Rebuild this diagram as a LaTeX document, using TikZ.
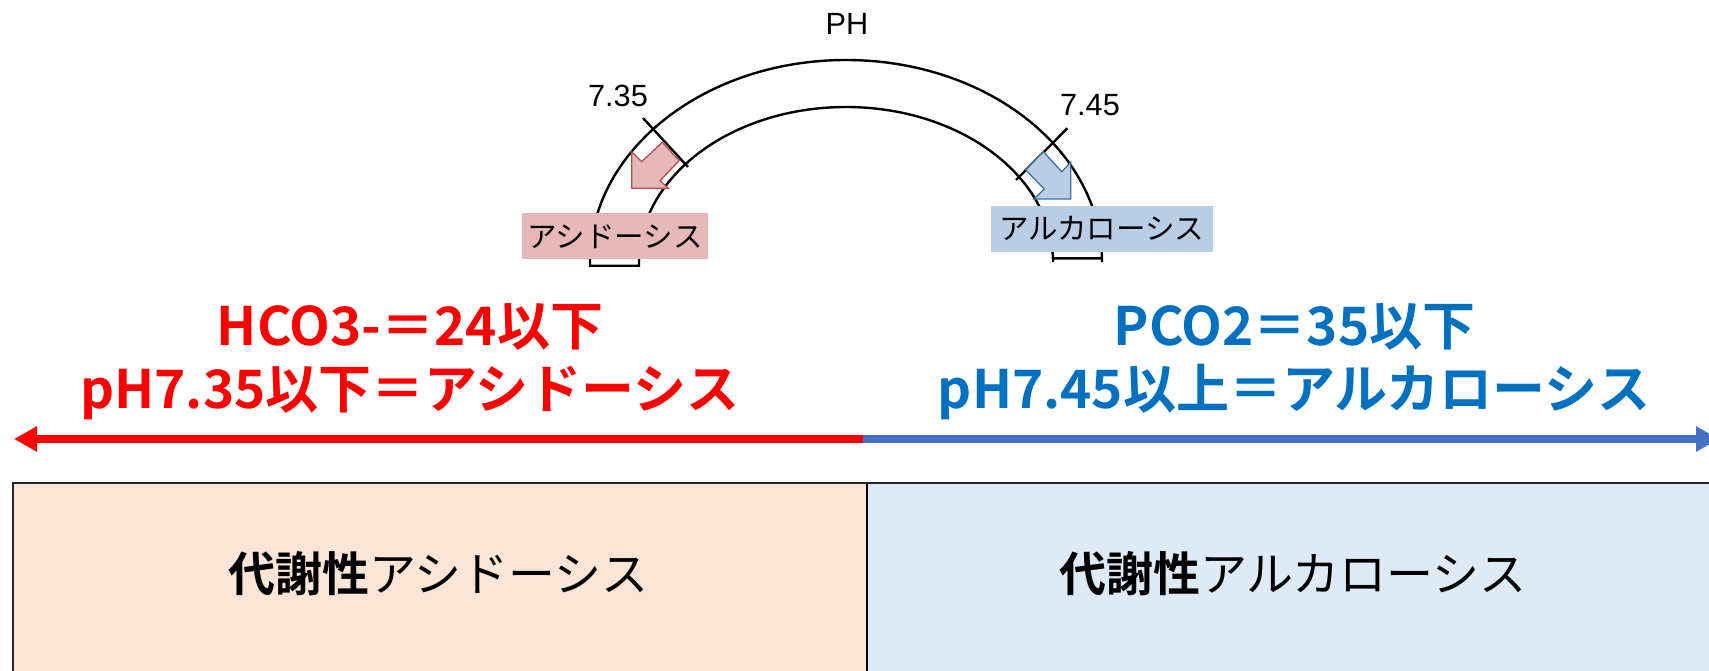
\documentclass[tikz,border=0pt]{standalone}
\usepackage{fontspec}
\setmainfont{Noto Sans CJK JP}[BoldFont={Noto Sans CJK JP Bold}]
\newfontfamily\arialish{Liberation Sans}
\usetikzlibrary{arrows.meta}
\definecolor{txtred}{HTML}{FF0000}
\definecolor{txtblue}{HTML}{0070C0}
\definecolor{arrblue}{HTML}{4472C4}
\definecolor{pinkfill}{HTML}{E6B9B8}
\definecolor{pinkline}{HTML}{B5504D}
\definecolor{bluefill}{HTML}{B9CDE5}
\definecolor{blueline}{HTML}{41719C}
\definecolor{peach}{HTML}{FBE5D6}
\definecolor{lightblue}{HTML}{DEEBF7}
\tikzset{
  bigtext/.style={font=\fontsize{53}{60}\selectfont\bfseries, anchor=base, inner sep=0pt},
  boxtext/.style={font=\fontsize{47}{54}\selectfont, anchor=base, inner sep=0pt},
  smalltext/.style={font=\arialish\fontsize{30.7}{36}\selectfont, inner sep=0pt},
  tag/.style={font=\fontsize{29.5}{34}\selectfont, inner sep=0pt, minimum height=46pt},
  archline/.style={line width=2.4pt, black},
  mainarrow/.style={line width=7.5pt, -{Triangle[length=23pt,width=24pt]}},
  panel/.style={line width=1.2pt, draw=black}
}
\begin{document}
\begin{tikzpicture}[x=1pt,y=-1pt]
\useasboundingbox (0,0) rectangle (1709,670);
\clip (0,0) rectangle (1709,670);

% lower panels
\fill[peach] (13,483) rectangle (867,690);
\fill[lightblue] (867,483) rectangle (1730,690);
\draw[panel] (867,483) -- (867,690);
\draw[line width=2.5pt, black!85] (13,690) -- (13,483) -- (1730,483);
\node[boxtext] (lefttxt) at (438.7,591) {{\bfseries 代謝性}アシドーシス};
\node[boxtext] (righttxt) at (1293,591) {{\bfseries 代謝性}アルカローシス};

% main arrows
\coordinate (mid) at (867,439);
\coordinate (leftend) at (14,439);
\coordinate (rightend) at (1719,439);
\draw[mainarrow, txtred] (mid) -- (leftend);
\draw[mainarrow, arrblue] ([xshift=-4pt]mid) -- (rightend);

% headings
\node[bigtext, txtred] (h1) at (410,345) {HCO3-＝24以下};
\node[bigtext, txtred] (h2) at (410,408) {pH7.35以下＝アシドーシス};
\node[bigtext, txtblue] (h3) at (1294.5,345) {PCO2＝35以下};
\node[bigtext, txtblue] (h4) at (1294,408) {pH7.45以上＝アルカローシス};

% arch
\draw[archline] (590,265.7) -- (590,262)
  arc[start angle=180, end angle=360, x radius=256, y radius=202]
  -- (1102,258.3) -- (1053,258.3) -- (1053,262)
  arc[start angle=360, end angle=180, x radius=207, y radius=155]
  -- (639,265.7) -- cycle;
\draw[archline] (643,118) -- (688,167);
\draw[archline] (1016,180) -- (1067.3,128.3);

% block arrows
\draw[fill=pinkfill, draw=pinkline, line width=1.3pt]
  (631.7,151.7) -- (641.7,161.7) -- (662.3,142.3) -- (679,160.7)
  -- (660,180.7) -- (668.3,188.3) -- (631.7,188.3) -- cycle;
\draw[fill=bluefill, draw=blueline, line width=1.3pt]
  (1070.7,199) -- (1070.7,162.3) -- (1061.7,171.7) -- (1043.3,151.7)
  -- (1025.7,170) -- (1044.3,189) -- (1034,199) -- cycle;

% labels
\node[smalltext] (ph) at (847,24) {PH};
\node[smalltext] (v735) at (618,96) {7.35};
\node[smalltext] (v745) at (1090,105) {7.45};
\node[tag, fill=pinkfill, minimum width=186.6pt] (acid) at (615,236.3) {アシドーシス};
\node[tag, fill=bluefill, minimum width=222pt] (alk) at (1101.7,228.7) {アルカローシス};
\end{tikzpicture}
\end{document}
